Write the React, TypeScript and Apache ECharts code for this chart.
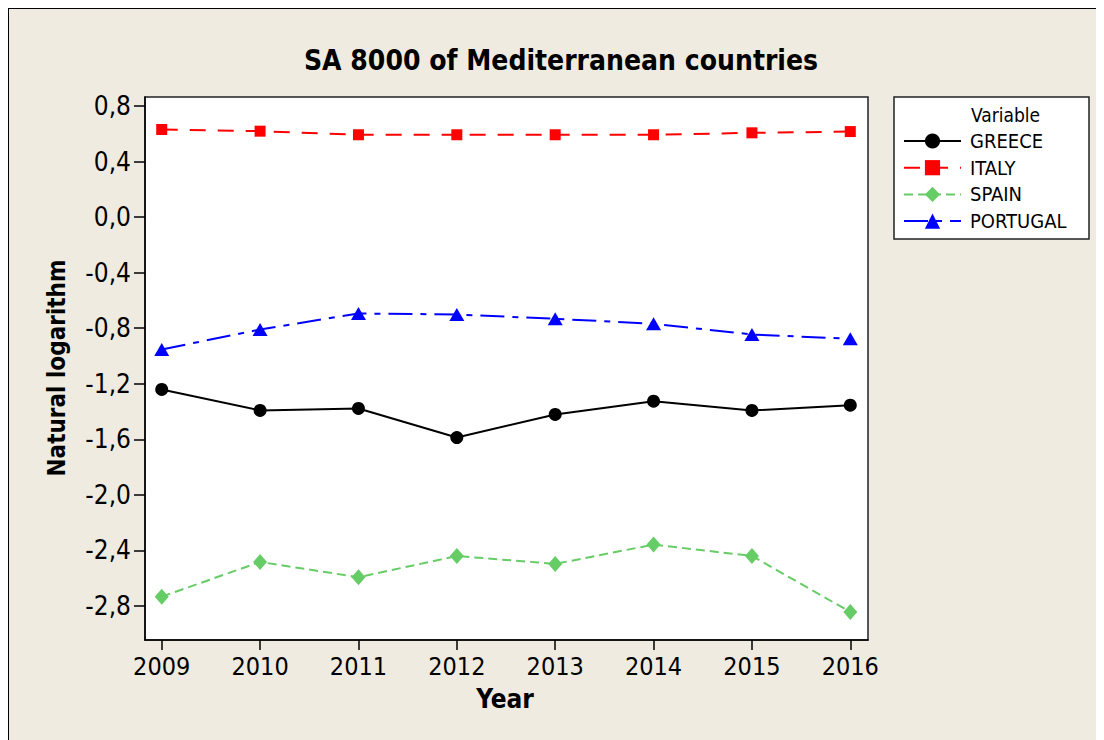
import React, { useEffect, useRef } from "react";
import * as echarts from "echarts";

const years = [2009, 2010, 2011, 2012, 2013, 2014, 2015, 2016];
const greece = [-1.241, -1.392, -1.378, -1.587, -1.421, -1.325, -1.392, -1.354];
const italy = [0.631, 0.619, 0.593, 0.593, 0.593, 0.593, 0.607, 0.616];
const spain = [-2.733, -2.483, -2.593, -2.44, -2.497, -2.358, -2.44, -2.843];
const portugal = [-0.953, -0.809, -0.694, -0.701, -0.732, -0.768, -0.845, -0.876];
const yTicks = [-2.8, -2.4, -2.0, -1.6, -1.2, -0.8, -0.4, 0.0, 0.4, 0.8];

const FONT = "'DejaVu Sans Condensed', 'Liberation Sans', sans-serif";

function pairs(vals: number[]) {
  return years.map((y, i) => [y, vals[i]]);
}

export default function App() {
  const ref = useRef<HTMLDivElement>(null);
  useEffect(() => {
    if (!ref.current) return;
    const chart = echarts.init(ref.current, undefined, { renderer: "svg" });
    chart.setOption({
      animation: false,
      backgroundColor: "transparent",
      textStyle: { fontFamily: FONT },
      grid: {
        left: 136,
        top: 88,
        width: 723,
        height: 543,
        show: true,
        backgroundColor: "#ffffff",
        borderColor: "#222",
        borderWidth: 1.5,
      },
      xAxis: {
        type: "value",
        min: 2008.83,
        max: 2016.18,
        axisLine: { show: true, onZero: false, lineStyle: { color: "#000", width: 1.5 } },
        axisTick: { show: true, length: 10, lineStyle: { color: "#000", width: 1.5 }, customValues: years },
        axisLabel: {
          customValues: years,
          formatter: (v: number) => String(v),
          color: "#000",
          fontSize: 25,
          fontFamily: FONT,
          margin: 14,
        },
        splitLine: { show: false },
      },
      yAxis: {
        type: "value",
        min: -3.045,
        max: 0.865,
        axisLine: { show: true, onZero: false, lineStyle: { color: "#000", width: 1.5 } },
        axisTick: { show: true, length: 11, lineStyle: { color: "#000", width: 1.5 }, customValues: yTicks },
        axisLabel: {
          customValues: yTicks,
          formatter: (v: number) => v.toFixed(1).replace(".", ","),
          color: "#000",
          fontSize: 26,
          fontFamily: FONT,
          margin: 14,
        },
        splitLine: { show: false },
      },
      legend: {
        orient: "vertical",
        left: 894,
        top: 122,
        itemWidth: 57,
        itemHeight: 19,
        itemGap: 6.7,
        padding: 0,
        textStyle: { color: "#000", fontSize: 20, fontFamily: FONT, padding: [0, 0, 0, 4] },
        data: ["GREECE", "ITALY", "SPAIN", "PORTUGAL"],
      },
      graphic: [
        {
          type: "text",
          x: 552,
          y: 51,
          style: {
            text: "SA 8000 of Mediterranean countries",
            fontSize: 28,
            fontWeight: "bold",
            fontFamily: FONT,
            fill: "#000",
            align: "center",
            verticalAlign: "middle",
          },
        },
        {
          type: "text",
          x: 496,
          y: 690,
          style: {
            text: "Year",
            fontSize: 26,
            fontWeight: "bold",
            fontFamily: FONT,
            fill: "#000",
            align: "center",
            verticalAlign: "middle",
          },
        },
        {
          type: "text",
          x: 48,
          y: 359,
          rotation: Math.PI / 2,
          style: {
            text: "Natural logarithm",
            fontSize: 24,
            fontWeight: "bold",
            fontFamily: FONT,
            fill: "#000",
            align: "center",
            verticalAlign: "middle",
          },
        },
        {
          type: "rect",
          x: 885,
          y: 88,
          shape: { x: 0, y: 0, width: 195, height: 142 },
          style: { fill: "#fff", stroke: "#222", lineWidth: 1.5 },
          z: -1,
        },
        {
          type: "text",
          x: 962,
          y: 106,
          style: {
            text: "Variable",
            fontSize: 19,
            fontFamily: FONT,
            fill: "#000",
            align: "left",
            verticalAlign: "middle",
          },
        },
      ],
      series: [
        {
          name: "GREECE",
          type: "line",
          data: pairs(greece),
          symbol: "circle",
          symbolSize: 13,
          itemStyle: { color: "#000" },
          lineStyle: { color: "#000", width: 2 },
        },
        {
          name: "ITALY",
          type: "line",
          data: pairs(italy),
          symbol: "rect",
          symbolSize: 11,
          itemStyle: { color: "#ff0000" },
          lineStyle: { color: "#ff0000", width: 2, type: [16, 12] },
        },
        {
          name: "SPAIN",
          type: "line",
          data: pairs(spain),
          symbol: "diamond",
          symbolSize: [14, 16],
          itemStyle: { color: "#66cc66" },
          lineStyle: { color: "#66cc66", width: 2, type: [9, 5] },
        },
        {
          name: "PORTUGAL",
          type: "line",
          data: pairs(portugal),
          symbol: "triangle",
          symbolSize: [15, 13],
          itemStyle: { color: "#0000ff" },
          lineStyle: { color: "#0000ff", width: 2, type: [24, 8, 6, 8] },
        },
      ],
    });
    return () => chart.dispose();
  }, []);

  return (
    <div
      style={{
        background: "#EFEBE1",
        borderLeft: "1px solid #000",
        borderTop: "1px solid #000",
        width: 1095,
        height: 731,
      }}
    >
      <div ref={ref} style={{ width: 1095, height: 731 }} />
    </div>
  );
}
